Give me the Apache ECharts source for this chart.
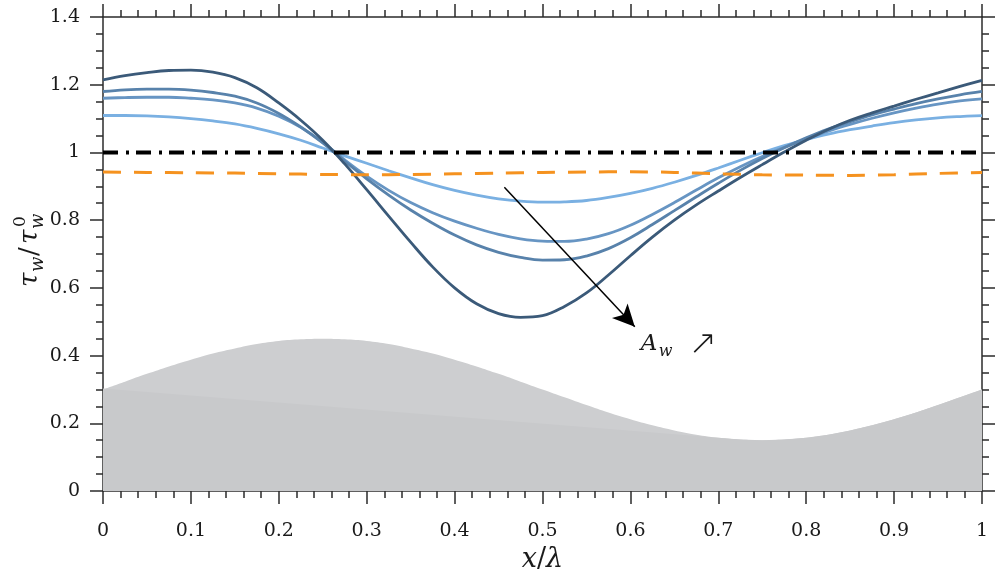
<!DOCTYPE html>
<html>
<head>
<meta charset="utf-8">
<script src="https://cdn.jsdelivr.net/npm/echarts@6/dist/echarts.min.js"></script>
<style>
  html, body { margin: 0; padding: 0; background: #fff; }
  #chart { width: 995px; height: 577px; }
</style>
</head>
<body>
<div id="chart"></div>
<script>
// Streamwise positions along one wavelength
const xPos = [0.000, 0.025, 0.050, 0.075, 0.100, 0.125, 0.150, 0.175, 0.200, 0.225,
              0.250, 0.275, 0.300, 0.325, 0.350, 0.375, 0.400, 0.425, 0.450, 0.475,
              0.500, 0.525, 0.550, 0.575, 0.600, 0.625, 0.650, 0.675, 0.700, 0.725,
              0.750, 0.775, 0.800, 0.825, 0.850, 0.875, 0.900, 0.925, 0.950, 0.975, 1.000];

// Normalised wall shear stress for increasing wall amplitude A_w
const tauSmallAmp = [1.109, 1.109, 1.108, 1.105, 1.100, 1.093, 1.084, 1.071, 1.055, 1.036,
                     1.013, 0.990, 0.968, 0.946, 0.925, 0.905, 0.888, 0.874, 0.863, 0.856,
                     0.853, 0.854, 0.858, 0.867, 0.879, 0.894, 0.912, 0.932, 0.954, 0.977,
                     0.999, 1.020, 1.038, 1.054, 1.067, 1.078, 1.088, 1.096, 1.102, 1.106, 1.109];
const tauMidAmp   = [1.160, 1.162, 1.163, 1.163, 1.160, 1.155, 1.146, 1.131, 1.107, 1.074,
                     1.030, 0.978, 0.930, 0.888, 0.852, 0.822, 0.797, 0.776, 0.758, 0.745,
                     0.738, 0.737, 0.744, 0.760, 0.785, 0.817, 0.852, 0.889, 0.925, 0.958,
                     0.988, 1.015, 1.040, 1.063, 1.083, 1.101, 1.117, 1.131, 1.143, 1.152, 1.158];
const tauHighAmp  = [1.180, 1.185, 1.187, 1.187, 1.184, 1.177, 1.166, 1.146, 1.115, 1.075,
                     1.028, 0.974, 0.922, 0.874, 0.830, 0.791, 0.756, 0.727, 0.705, 0.690,
                     0.682, 0.683, 0.694, 0.716, 0.748, 0.787, 0.828, 0.869, 0.909, 0.947,
                     0.982, 1.014, 1.043, 1.069, 1.091, 1.111, 1.128, 1.144, 1.158, 1.170, 1.180];
const tauLargeAmp = [1.214, 1.227, 1.236, 1.242, 1.243, 1.237, 1.221, 1.191, 1.146, 1.095,
                     1.036, 0.966, 0.890, 0.812, 0.735, 0.662, 0.600, 0.553, 0.524, 0.513,
                     0.518, 0.545, 0.585, 0.638, 0.695, 0.750, 0.800, 0.845, 0.886, 0.926,
                     0.964, 1.001, 1.036, 1.068, 1.095, 1.117, 1.137, 1.157, 1.176, 1.195, 1.213];

// Mean-flow reference (dashed) and flat-wall reference level
const meanX = [0, 0.05, 0.10, 0.15, 0.20, 0.25, 0.30, 0.35, 0.40, 0.45, 0.50,
               0.55, 0.60, 0.65, 0.70, 0.75, 0.80, 0.85, 0.90, 0.95, 1.00];
const tauMean = [0.942, 0.941, 0.940, 0.939, 0.937, 0.935, 0.934, 0.935, 0.937, 0.939, 0.941,
                 0.942, 0.943, 0.941, 0.937, 0.934, 0.933, 0.932, 0.934, 0.938, 0.941];
const flatX = [0, 1];
const flatTau = [1, 1];

// Wavy wall profile drawn as the grey background shape
const wallShape = [0.300, 0.323, 0.346, 0.368, 0.388, 0.406, 0.421, 0.434, 0.443, 0.448,
                   0.450, 0.448, 0.443, 0.434, 0.421, 0.406, 0.388, 0.368, 0.346, 0.323,
                   0.300, 0.277, 0.254, 0.232, 0.212, 0.194, 0.179, 0.166, 0.157, 0.152,
                   0.150, 0.152, 0.157, 0.166, 0.179, 0.194, 0.212, 0.232, 0.254, 0.277, 0.300];
// Darker core of the wall shape: straight chord on the left, wall profile beyond it
const wallCoreX = [0.000, 0.700, 0.725, 0.750, 0.775, 0.800, 0.825, 0.850, 0.875, 0.900, 0.925, 0.950, 0.975, 1.000];
const wallCoreY = [0.303, 0.157, 0.152, 0.150, 0.152, 0.157, 0.166, 0.179, 0.194, 0.212, 0.232, 0.254, 0.277, 0.300];

// Annotation arrow (data coordinates) and label anchor
const arrowFrom = [0.4566, 0.897];
const arrowTo = [0.605, 0.485];
const ampLabelAt = [0.655, 0.431];

const xTicks = { min: 0, max: 1, step: 0.1 };
const yTicks = { min: 0, max: 1.4, step: 0.2 };

const serif = 'DejaVu Serif';
const ink = '#1a1a1a';
const axisInk = '#2b2b2b';

const pairs = (xs, ys) => xs.map((x, i) => [x, ys[i]]);

function frameAxis(kind, pos, ticks, minorSplit, showLabels) {
  return {
    type: 'value',
    position: pos,
    min: ticks.min,
    max: ticks.max,
    interval: ticks.step,
    axisLine: { show: true, onZero: false, lineStyle: { color: axisInk, width: 1.5 } },
    axisTick: { show: true, inside: false, length: 13, lineStyle: { color: axisInk, width: 1.5 } },
    minorTick: { show: true, splitNumber: minorSplit, length: 7, lineStyle: { color: axisInk, width: 1.5 } },
    splitLine: { show: false },
    minorSplitLine: { show: false },
    axisLabel: {
      show: showLabels,
      margin: kind === 'x' ? 31 : 23,
      fontFamily: serif,
      fontSize: 19,
      color: ink
    }
  };
}

const xBottom = frameAxis('x', 'bottom', xTicks, 5, true);
xBottom.name = '{i|x}{n|/}{i|λ}';
xBottom.nameLocation = 'middle';
xBottom.nameGap = 55;
xBottom.nameTextStyle = {
  fontFamily: serif, fontSize: 27, color: ink,
  rich: {
    i: { fontFamily: serif, fontStyle: 'italic', fontSize: 27, color: ink },
    n: { fontFamily: serif, fontSize: 27, color: ink }
  }
};

const blueLine = (name, data, color) => ({
  name, type: 'line', data: pairs(xPos, data), smooth: 0.4, symbol: 'none',
  lineStyle: { color, width: 2.8 }, silent: true, z: 3
});

const option = {
  animation: false,
  backgroundColor: '#fff',
  textStyle: { fontFamily: serif },
  grid: { left: 103, right: 13, top: 17, bottom: 86, outerBoundsMode: 'none' },
  xAxis: [xBottom, frameAxis('x', 'top', xTicks, 5, false)],
  yAxis: [frameAxis('y', 'left', yTicks, 4, true), frameAxis('y', 'right', yTicks, 4, false)],
  series: [
    {
      name: 'wall', type: 'line', data: pairs(xPos, wallShape), smooth: 0.4, symbol: 'none',
      lineStyle: { width: 0 }, areaStyle: { color: '#cdced0', opacity: 1 }, silent: true, z: 1
    },
    {
      name: 'wall-core', type: 'line', data: pairs(wallCoreX, wallCoreY), smooth: 0, symbol: 'none',
      lineStyle: { width: 0 }, areaStyle: { color: '#c8c9cb', opacity: 1 }, silent: true, z: 1
    },
    blueLine('A1', tauSmallAmp, '#7ab0e2'),
    blueLine('A2', tauMidAmp, '#6795c3'),
    blueLine('A3', tauHighAmp, '#5882ab'),
    blueLine('A4', tauLargeAmp, '#3b5a79'),
    {
      name: 'mean', type: 'line', data: pairs(meanX, tauMean), smooth: 0.3, symbol: 'none',
      lineStyle: { color: '#f5921f', width: 3, type: [18, 13] }, silent: true, z: 4
    },
    {
      name: 'flat', type: 'line', data: pairs(flatX, flatTau), symbol: 'none',
      lineStyle: { color: '#000', width: 4, type: [15, 8, 3, 7] }, silent: true, z: 5,
      markLine: {
        silent: true,
        symbol: ['none', 'arrow'],
        symbolSize: [16, 22],
        lineStyle: { color: '#000', width: 1.5, type: 'solid' },
        label: { show: false },
        emphasis: { disabled: true },
        data: [[{ coord: arrowFrom }, { coord: arrowTo }]]
      }
    }
  ]
};

const chart = echarts.init(document.getElementById('chart'), null, { renderer: 'canvas' });
chart.setOption(option);

// Text annotations: the rotated y-axis title and the amplitude label
const yFont = 'italic 26px DejaVu Serif';
const ySubFont = 'italic 18px DejaVu Serif';
const yUpFont = '26px DejaVu Serif';
const ySupFont = '17px DejaVu Serif';
const t = (text, x, y, font, align) => ({
  type: 'text', x, y,
  style: {
    text, font, fill: ink,
    textAlign: align || 'left', align: align || 'left',
    textVerticalAlign: 'middle', verticalAlign: 'middle'
  }
});

const lab = chart.convertToPixel({ gridIndex: 0 }, ampLabelAt);

chart.setOption({
  graphic: [
    {
      type: 'group', x: 33, y: 249, rotation: Math.PI / 2, silent: true,
      children: [
        t('τ', -38, -3, yFont),
        t('w', -23, 5, ySubFont),
        t('/', -7, -3, yUpFont),
        t('τ', 5, -3, yFont),
        t('0', 22, -12, ySupFont),
        t('w', 20, 5, ySubFont)
      ]
    },
    {
      type: 'group', x: lab[0], y: lab[1], silent: true,
      children: [
        t('A', -38, -1, 'italic 23px DejaVu Serif'),
        t('w', -20, 7, 'italic 16px DejaVu Serif'),
        t('↗', 24, 0, '200 34px DejaVu Sans', 'center')
      ]
    }
  ]
});
</script>
</body>
</html>
